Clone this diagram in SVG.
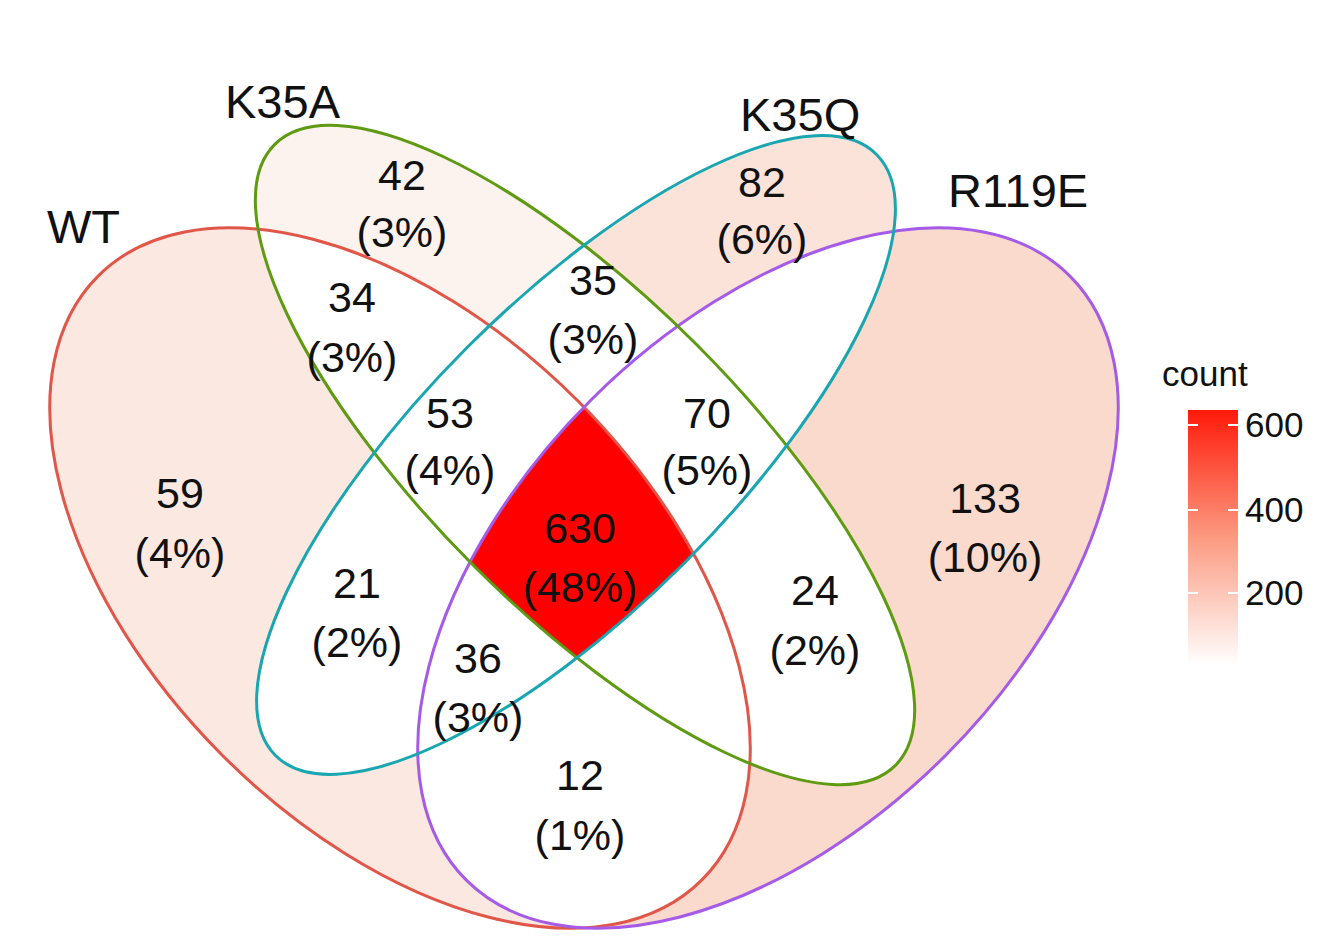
<svg xmlns="http://www.w3.org/2000/svg" width="1333" height="941" viewBox="0 0 1333 941">
<style>
text{font-family:"Liberation Sans",Arial,sans-serif;fill:#111;text-anchor:middle}
.n{font-size:43px}
.lab{font-size:47px;text-anchor:start}
.leg{font-size:35px;text-anchor:start}
.out{fill:none;stroke-width:3}
</style>
<defs>
<ellipse id="eWT" cx="400" cy="578" rx="427" ry="251" transform="rotate(45 400 578)"/>
<ellipse id="eR" cx="768" cy="578" rx="427" ry="251" transform="rotate(-45 768 578)"/>
<ellipse id="eA" cx="585" cy="455" rx="439" ry="157" transform="rotate(45 585 455)"/>
<ellipse id="eQ" cx="576" cy="455" rx="425" ry="153" transform="rotate(-45 576 455)"/>
<mask id="mWT"><rect width="1333" height="941" fill="black"/><use href="#eWT" fill="white"/><use href="#eR" fill="black"/><use href="#eA" fill="black"/><use href="#eQ" fill="black"/></mask>
<mask id="mR"><rect width="1333" height="941" fill="black"/><use href="#eR" fill="white"/><use href="#eWT" fill="black"/><use href="#eA" fill="black"/><use href="#eQ" fill="black"/></mask>
<mask id="mA"><rect width="1333" height="941" fill="black"/><use href="#eA" fill="white"/><use href="#eWT" fill="black"/><use href="#eR" fill="black"/><use href="#eQ" fill="black"/></mask>
<mask id="mQ"><rect width="1333" height="941" fill="black"/><use href="#eQ" fill="white"/><use href="#eWT" fill="black"/><use href="#eR" fill="black"/><use href="#eA" fill="black"/></mask>
<clipPath id="cWT"><use href="#eWT"/></clipPath>
<clipPath id="cR"><use href="#eR"/></clipPath>
<clipPath id="cA"><use href="#eA"/></clipPath>
<clipPath id="cQ"><use href="#eQ"/></clipPath>
<linearGradient id="gl" x1="0" y1="0" x2="0" y2="1">
<stop offset="0" stop-color="#ff1a0a"/><stop offset="0.5" stop-color="#fb9a80"/><stop offset="1" stop-color="#fff"/>
</linearGradient>
</defs>
<rect width="1333" height="941" fill="#fff"/>
<g id="fills">
<rect width="1333" height="941" fill="#fbe8e1" mask="url(#mWT)"/>
<rect width="1333" height="941" fill="#f9dacd" mask="url(#mR)"/>
<rect width="1333" height="941" fill="#fdf3ee" mask="url(#mA)"/>
<rect width="1333" height="941" fill="#fbe3d9" mask="url(#mQ)"/>
<rect width="1333" height="941" fill="#fdf9f6" mask="url(#mQ)" opacity="0"/>
<g clip-path="url(#cWT)"><g clip-path="url(#cR)"><g clip-path="url(#cA)"><rect width="1333" height="941" fill="#ff0000" clip-path="url(#cQ)"/></g></g></g>
</g>
<g id="connectors">
<use id="WT" href="#eWT" class="out" stroke="#e0574a"/>
<use id="R119E" href="#eR" class="out" stroke="#a55be8"/>
<use id="K35A" href="#eA" class="out" stroke="#5e9a12"/>
<use id="K35Q" href="#eQ" class="out" stroke="#1aa6b0"/>
</g>
<g id="labels">
<text class="lab" x="225" y="118">K35A</text>
<text class="lab" x="740" y="131">K35Q</text>
<text class="lab" x="47" y="243">WT</text>
<text class="lab" x="948" y="207">R119E</text>
</g>
<g id="counts">
<text class="n" x="402" y="190">42</text><text class="n" x="402" y="247">(3%)</text>
<text class="n" x="762" y="197">82</text><text class="n" x="762" y="254">(6%)</text>
<text class="n" x="352" y="312">34</text><text class="n" x="352" y="372">(3%)</text>
<text class="n" x="593" y="295">35</text><text class="n" x="593" y="354">(3%)</text>
<text class="n" x="450" y="428">53</text><text class="n" x="450" y="485">(4%)</text>
<text class="n" x="707" y="428">70</text><text class="n" x="707" y="485">(5%)</text>
<text class="n" x="180" y="508">59</text><text class="n" x="180" y="568">(4%)</text>
<text class="n" x="985" y="513">133</text><text class="n" x="985" y="572">(10%)</text>
<text class="n" x="580" y="543">630</text><text class="n" x="580" y="602">(48%)</text>
<text class="n" x="357" y="598">21</text><text class="n" x="357" y="657">(2%)</text>
<text class="n" x="815" y="605">24</text><text class="n" x="815" y="665">(2%)</text>
<text class="n" x="478" y="673">36</text><text class="n" x="478" y="732">(3%)</text>
<text class="n" x="580" y="790">12</text><text class="n" x="580" y="850">(1%)</text>
</g>
<g id="legend">
<text class="leg" x="1162" y="386">count</text>
<rect x="1188" y="410" width="50" height="255" fill="url(#gl)"/>
<g stroke="#fff" stroke-width="2">
<line x1="1188" y1="425" x2="1198" y2="425"/><line x1="1228" y1="425" x2="1238" y2="425"/>
<line x1="1188" y1="510" x2="1198" y2="510"/><line x1="1228" y1="510" x2="1238" y2="510"/>
<line x1="1188" y1="593" x2="1198" y2="593"/><line x1="1228" y1="593" x2="1238" y2="593"/>
</g>
<text class="leg" x="1245" y="437">600</text>
<text class="leg" x="1245" y="522">400</text>
<text class="leg" x="1245" y="605">200</text>
</g>
</svg>
